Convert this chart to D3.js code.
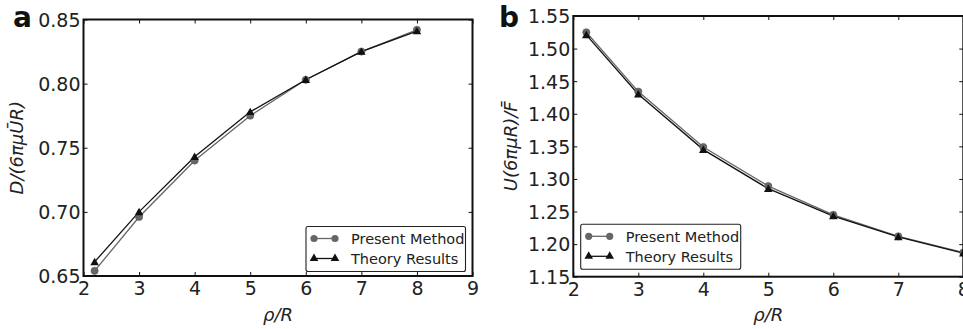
<!DOCTYPE html>
<html><head><meta charset="utf-8">
<script src="https://cdn.jsdelivr.net/npm/d3@7"></script>
<style>html,body{margin:0;padding:0;background:#fff;}svg{display:block;font-family:"DejaVu Sans",sans-serif;}</style>
</head><body>
<svg id="c" width="963" height="329"></svg>
<script>
const xVals = [2.2, 3, 4, 5, 6, 7, 8];
const aPresent = [0.654, 0.696, 0.740, 0.775, 0.803, 0.825, 0.842];
const aTheory  = [0.661, 0.700, 0.743, 0.778, 0.803, 0.825, 0.841];
const bPresent = [1.525, 1.434, 1.349, 1.289, 1.245, 1.212, 1.187];
const bTheory  = [1.521, 1.430, 1.345, 1.285, 1.243, 1.211, 1.186];
const aXTicks = [2, 3, 4, 5, 6, 7, 8, 9];
const aYTicks = [0.65, 0.70, 0.75, 0.80, 0.85];
const bXTicks = [2, 3, 4, 5, 6, 7, 8];
const bYTicks = [1.15, 1.20, 1.25, 1.30, 1.35, 1.40, 1.45, 1.50, 1.55];
const legendLabels = ["Present Method", "Theory Results"];

const svg = d3.select("#c");
const txt = "#222";

function panel(cfg) {
  const g = svg.append("g");
  const x = d3.scaleLinear().domain(cfg.xdom).range([cfg.l, cfg.r]);
  const y = d3.scaleLinear().domain(cfg.ydom).range([cfg.b, cfg.t]);
  const tl = 4;
  const xa = d3.axisBottom(x).tickValues(cfg.xt).tickSize(-tl).tickPadding(6).tickFormat(d3.format("d"));
  const ya = d3.axisLeft(y).tickValues(cfg.yt).tickSize(-tl).tickPadding(3).tickFormat(d3.format(".2f"));
  const xt = d3.axisTop(x).tickValues(cfg.xt).tickSize(-tl).tickFormat("");
  const yr = d3.axisRight(y).tickValues(cfg.yt).tickSize(-tl).tickFormat("");
  const gx = g.append("g").attr("transform", `translate(0,${cfg.b})`).call(xa);
  const gy = g.append("g").attr("transform", `translate(${cfg.l},0)`).call(ya);
  const gt = g.append("g").attr("transform", `translate(0,${cfg.t})`).call(xt);
  const gr = g.append("g").attr("transform", `translate(${cfg.r},0)`).call(yr);
  [gx, gy, gt, gr].forEach(a => {
    a.select(".domain").remove();
    a.selectAll(".tick line").attr("stroke", "#111").attr("stroke-width", 1);
    a.selectAll("text").attr("fill", txt).attr("font-size", 19).attr("font-family", "DejaVu Sans");
  });
  gy.selectAll("text").attr("dy", "0.36em");
  const line = d3.line().x((d, i) => x(xVals[i])).y(d => y(d));
  g.append("path").datum(cfg.present).attr("d", line).attr("fill", "none").attr("stroke", "#666").attr("stroke-width", 1.3);
  g.append("path").datum(cfg.theory).attr("d", line).attr("fill", "none").attr("stroke", "#111").attr("stroke-width", 1.3);
  g.selectAll(".pc").data(cfg.present).enter().append("circle")
    .attr("cx", (d, i) => x(xVals[i])).attr("cy", d => y(d)).attr("r", 3.6).attr("fill", "#666").attr("stroke", "#555").attr("stroke-width", 0.6);
  const tri = d3.symbol().type(d3.symbolTriangle).size(32);
  g.selectAll(".tt").data(cfg.theory).enter().append("path")
    .attr("d", tri).attr("transform", (d, i) => `translate(${x(xVals[i])},${y(d) + 0.8})`).attr("fill", "#111");
  g.append("rect").attr("x", cfg.l).attr("y", cfg.t).attr("width", cfg.r - cfg.l).attr("height", cfg.b - cfg.t)
    .attr("fill", "none").attr("stroke", "#111").attr("stroke-width", 2);
  const xl = g.append("text").attr("x", (cfg.l + cfg.r) / 2).attr("y", 321).attr("text-anchor", "middle")
    .attr("font-size", 18).attr("fill", txt).attr("font-style", "italic");
  xl.append("tspan").text("ρ/");
  xl.append("tspan").text("R");
  const ylab = g.append("text").attr("transform", `translate(${cfg.ylx},${(cfg.t + cfg.b) / 2}) rotate(-90)`)
    .attr("text-anchor", "middle").attr("font-size", 18).attr("fill", txt).attr("font-style", "italic");
  cfg.ylab.forEach(s => ylab.append("tspan").text(s));
  g.append("text").attr("x", cfg.lx).attr("y", 27).attr("font-size", 28).attr("font-weight", "bold")
    .attr("fill", "#111").text(cfg.letter);
  const lg = g.append("g");
  lg.append("rect").attr("x", cfg.lg[0]).attr("y", cfg.lg[1]).attr("width", cfg.lg[2]).attr("height", cfg.lg[3])
    .attr("rx", 2).attr("fill", "#fff").attr("stroke", "#222").attr("stroke-width", 1.1);
  const rows = [cfg.lg[1] + 12, cfg.lg[1] + 32];
  const mx0 = cfg.lg[0] + 8, mx1 = cfg.lg[0] + 29;
  lg.append("line").attr("x1", mx0).attr("x2", mx1).attr("y1", rows[0]).attr("y2", rows[0]).attr("stroke", "#666").attr("stroke-width", 1.3);
  [mx0, mx1].forEach(mx => lg.append("circle").attr("cx", mx).attr("cy", rows[0]).attr("r", 3.6).attr("fill", "#666"));
  lg.append("line").attr("x1", mx0).attr("x2", mx1).attr("y1", rows[1]).attr("y2", rows[1]).attr("stroke", "#111").attr("stroke-width", 1.3);
  [mx0, mx1].forEach(mx => lg.append("path").attr("d", tri).attr("transform", `translate(${mx},${rows[1]})`).attr("fill", "#111"));
  legendLabels.forEach((t, i) => lg.append("text").attr("x", cfg.lg[0] + 45).attr("y", rows[i]).attr("dy", "0.36em")
    .attr("font-size", 14.5).attr("fill", txt).text(t));
}

panel({
  l: 83.5, r: 472.5, t: 19.5, b: 276, xdom: [2, 9], ydom: [0.65, 0.85],
  xt: aXTicks, yt: aYTicks, present: aPresent, theory: aTheory,
  ylx: 23, letter: "a", lx: 13, lg: [306, 226.5, 159.5, 45],
  ylab: ["D/(6πμŪR)"]
});
panel({
  l: 573.3, r: 963.3, t: 16, b: 276.7, xdom: [2, 8], ydom: [1.15, 1.55],
  xt: bXTicks, yt: bYTicks, present: bPresent, theory: bTheory,
  ylx: 517, letter: "b", lx: 499, lg: [580.7, 224.3, 160, 45],
  ylab: ["U(6πμR)/F\u0304"]
});
</script>
</body></html>
